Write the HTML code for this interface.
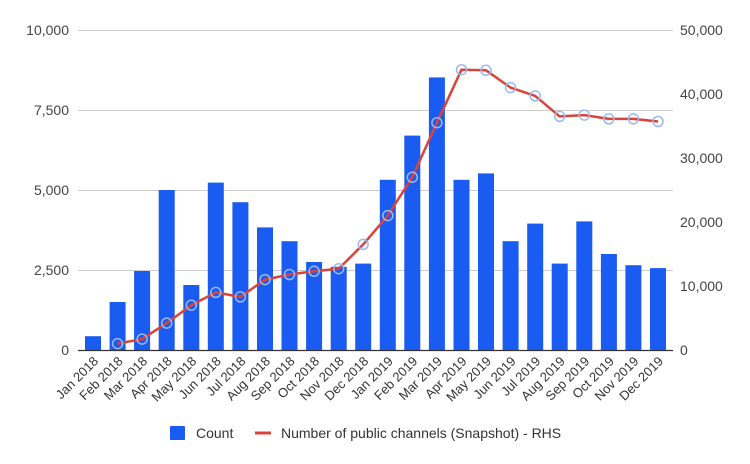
<!DOCTYPE html>
<html><head><meta charset="utf-8"><style>
html,body{margin:0;padding:0;background:#fff;}
svg{display:block;font-family:"Liberation Sans",Arial,sans-serif;}
</style></head><body>
<svg width="750" height="464" viewBox="0 0 750 464" xmlns="http://www.w3.org/2000/svg">
<g stroke="#cccccc" stroke-width="1">
<line x1="78" x2="673" y1="30.5" y2="30.5"/>
<line x1="78" x2="673" y1="110.5" y2="110.5"/>
<line x1="78" x2="673" y1="190.5" y2="190.5"/>
<line x1="78" x2="673" y1="270.5" y2="270.5"/>
</g>
<g font-size="14" fill="#444" text-anchor="end">
<text x="69" y="35">10,000</text>
<text x="69" y="115">7,500</text>
<text x="69" y="195">5,000</text>
<text x="69" y="275">2,500</text>
<text x="69" y="355">0</text>
</g>
<g font-size="14" fill="#444" text-anchor="start">
<text x="680" y="35">50,000</text>
<text x="680" y="99">40,000</text>
<text x="680" y="163">30,000</text>
<text x="680" y="227">20,000</text>
<text x="680" y="291">10,000</text>
<text x="680" y="355">0</text>
</g>
<g fill="#1a5cf2">
<rect x="85" y="336.2" width="16" height="13.8"/>
<rect x="109.6" y="302" width="16" height="48"/>
<rect x="134.1" y="271" width="16" height="79"/>
<rect x="158.7" y="190" width="16" height="160"/>
<rect x="183.3" y="285" width="16" height="65"/>
<rect x="207.8" y="182.6" width="16" height="167.4"/>
<rect x="232.4" y="202.2" width="16" height="147.8"/>
<rect x="257" y="227.4" width="16" height="122.6"/>
<rect x="281.5" y="241.2" width="16" height="108.8"/>
<rect x="306.1" y="262" width="16" height="88"/>
<rect x="330.7" y="266.8" width="16" height="83.2"/>
<rect x="355.2" y="263.6" width="16" height="86.4"/>
<rect x="379.8" y="179.8" width="16" height="170.2"/>
<rect x="404.3" y="135.6" width="16" height="214.4"/>
<rect x="428.9" y="77.4" width="16" height="272.6"/>
<rect x="453.5" y="179.8" width="16" height="170.2"/>
<rect x="478" y="173.4" width="16" height="176.6"/>
<rect x="502.6" y="241.2" width="16" height="108.8"/>
<rect x="527.2" y="223.6" width="16" height="126.4"/>
<rect x="551.7" y="263.6" width="16" height="86.4"/>
<rect x="576.3" y="221.4" width="16" height="128.6"/>
<rect x="600.9" y="254" width="16" height="96"/>
<rect x="625.4" y="265.2" width="16" height="84.8"/>
<rect x="650" y="268.1" width="16" height="81.9"/>
</g>
<line x1="78" x2="673" y1="350.5" y2="350.5" stroke="#333" stroke-width="1.2"/>
<polyline fill="none" stroke="#d9443a" stroke-width="2.5" stroke-linejoin="round" points="117.6,343.6 142.1,339.1 166.7,323.1 191.3,305.2 215.8,292.4 240.4,296.9 265,279.6 289.5,274.5 314.1,271.3 338.7,268.7 363.2,244.4 387.8,215.6 412.3,177.2 436.9,122.8 461.5,69.7 486,70.3 510.6,87.6 535.2,95.9 559.7,116.4 584.3,115.1 608.9,118.9 633.4,118.9 658,121.5"/>
<g fill="none" stroke="#9db8ee" stroke-width="1.5">
<circle cx="117.6" cy="343.6" r="5"/><circle cx="142.1" cy="339.1" r="5"/><circle cx="166.7" cy="323.1" r="5"/><circle cx="191.3" cy="305.2" r="5"/><circle cx="215.8" cy="292.4" r="5"/><circle cx="240.4" cy="296.9" r="5"/><circle cx="265" cy="279.6" r="5"/><circle cx="289.5" cy="274.5" r="5"/><circle cx="314.1" cy="271.3" r="5"/><circle cx="338.7" cy="268.7" r="5"/><circle cx="363.2" cy="244.4" r="5"/><circle cx="387.8" cy="215.6" r="5"/><circle cx="412.3" cy="177.2" r="5"/><circle cx="436.9" cy="122.8" r="5"/><circle cx="461.5" cy="69.7" r="5"/><circle cx="486" cy="70.3" r="5"/><circle cx="510.6" cy="87.6" r="5"/><circle cx="535.2" cy="95.9" r="5"/><circle cx="559.7" cy="116.4" r="5"/><circle cx="584.3" cy="115.1" r="5"/><circle cx="608.9" cy="118.9" r="5"/><circle cx="633.4" cy="118.9" r="5"/><circle cx="658" cy="121.5" r="5"/>
</g>
<g font-size="13" fill="#333" text-anchor="end">
<text transform="translate(99,362) rotate(-45)">Jan 2018</text>
<text transform="translate(123.6,362) rotate(-45)">Feb 2018</text>
<text transform="translate(148.1,362) rotate(-45)">Mar 2018</text>
<text transform="translate(172.7,362) rotate(-45)">Apr 2018</text>
<text transform="translate(197.3,362) rotate(-45)">May 2018</text>
<text transform="translate(221.8,362) rotate(-45)">Jun 2018</text>
<text transform="translate(246.4,362) rotate(-45)">Jul 2018</text>
<text transform="translate(271,362) rotate(-45)">Aug 2018</text>
<text transform="translate(295.5,362) rotate(-45)">Sep 2018</text>
<text transform="translate(320.1,362) rotate(-45)">Oct 2018</text>
<text transform="translate(344.7,362) rotate(-45)">Nov 2018</text>
<text transform="translate(369.2,362) rotate(-45)">Dec 2018</text>
<text transform="translate(393.8,362) rotate(-45)">Jan 2019</text>
<text transform="translate(418.3,362) rotate(-45)">Feb 2019</text>
<text transform="translate(442.9,362) rotate(-45)">Mar 2019</text>
<text transform="translate(467.5,362) rotate(-45)">Apr 2019</text>
<text transform="translate(492,362) rotate(-45)">May 2019</text>
<text transform="translate(516.6,362) rotate(-45)">Jun 2019</text>
<text transform="translate(541.2,362) rotate(-45)">Jul 2019</text>
<text transform="translate(565.7,362) rotate(-45)">Aug 2019</text>
<text transform="translate(590.3,362) rotate(-45)">Sep 2019</text>
<text transform="translate(614.9,362) rotate(-45)">Oct 2019</text>
<text transform="translate(639.4,362) rotate(-45)">Nov 2019</text>
<text transform="translate(664,362) rotate(-45)">Dec 2019</text>
</g>
<rect x="170" y="426" width="15" height="14" rx="1" fill="#1a5cf2"/>
<text x="196" y="438" font-size="14" fill="#333">Count</text>
<line x1="255" x2="271" y1="433" y2="433" stroke="#d9443a" stroke-width="3"/>
<text x="281" y="438" font-size="14" fill="#333">Number of public channels (Snapshot) - RHS</text>
</svg>
</body></html>
